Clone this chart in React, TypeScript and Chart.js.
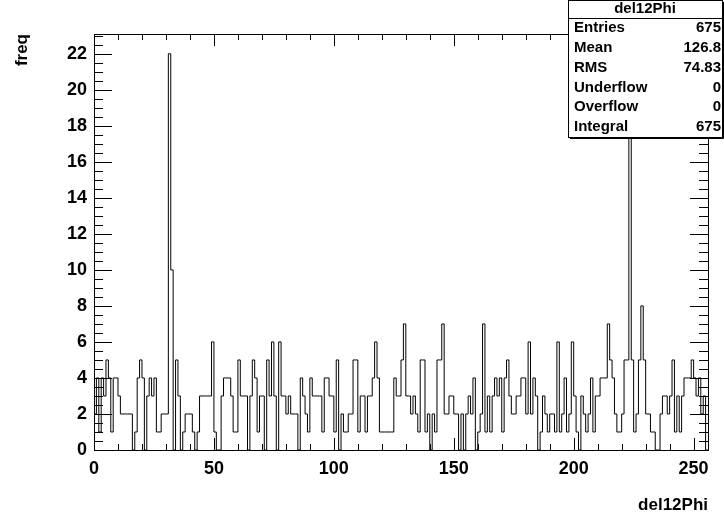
import React, { useEffect, useRef } from "react";
import { Chart, registerables } from "chart.js";

Chart.register(...registerables);

// ---- data ----
const histName = "del12Phi";
const xTitle = "del12Phi";
const yTitle = "freq";
const xMin = 0;
const xMax = 256;
const yMax = 23.1;

// counts per unit-width bin, bins 0..255
const binCounts = [
  4, 2, 4, 1, 4, 3, 5, 4, 1, 4,
  4, 3, 2, 2, 2, 2, 2, 0, 1, 4,
  5, 4, 0, 3, 4, 3, 4, 1, 1, 2,
  2, 2, 22, 10, 0, 5, 3, 0, 1, 2,
  2, 2, 1, 0, 1, 3, 3, 3, 3, 3,
  6, 1, 0, 0, 3, 4, 4, 4, 3, 1,
  1, 5, 3, 3, 3, 0, 3, 5, 4, 1,
  3, 3, 0, 5, 3, 6, 3, 0, 6, 3,
  3, 2, 3, 2, 2, 2, 0, 4, 3, 2,
  1, 4, 3, 3, 3, 3, 1, 4, 4, 3,
  3, 1, 5, 0, 2, 1, 1, 2, 2, 5,
  5, 1, 3, 3, 1, 3, 3, 4, 6, 4,
  1, 1, 1, 1, 1, 1, 4, 3, 3, 5,
  7, 3, 3, 2, 3, 2, 1, 5, 5, 1,
  2, 0, 2, 1, 5, 5, 7, 2, 2, 3,
  3, 2, 2, 0, 2, 0, 2, 3, 2, 4,
  0, 1, 2, 7, 1, 3, 1, 3, 4, 3,
  4, 1, 4, 5, 3, 2, 2, 3, 3, 4,
  4, 2, 6, 2, 4, 3, 0, 1, 3, 2,
  1, 2, 2, 1, 6, 1, 2, 4, 1, 2,
  6, 3, 1, 0, 3, 2, 1, 2, 4, 1,
  3, 3, 4, 4, 4, 7, 5, 4, 2, 1,
  1, 2, 5, 5, 20, 5, 1, 2, 5, 8,
  5, 2, 2, 1, 1, 0, 0, 2, 3, 3,
  2, 3, 5, 1, 3, 1, 3, 4, 4, 4,
  5, 4, 3, 4, 2, 3,
];

const xMajorTicks = [0, 50, 100, 150, 200, 250];
const yMajorTicks = [0, 2, 4, 6, 8, 10, 12, 14, 16, 18, 20, 22];
const xMinorStep = 10;
const yMinorStep = 0.5;

const statsLabels = ["Entries", "Mean", "RMS", "Underflow", "Overflow", "Integral"];
const statsValues = ["675", "126.8", "74.83", "0", "0", "675"];

const FONT = "'Liberation Sans', Arial, Helvetica, sans-serif";

const rootFramePlugin = {
  id: "rootFrame",
  afterDraw(chart: any) {
    const ctx = chart.ctx as CanvasRenderingContext2D;
    const xs = chart.scales.x;
    const ys = chart.scales.y;
    const { left, right, top, bottom } = chart.chartArea;
    ctx.save();
    ctx.strokeStyle = "#000";
    ctx.lineWidth = 1;
    // frame
    ctx.strokeRect(Math.round(left) + 0.5, Math.round(top) + 0.5, Math.round(right - left), Math.round(bottom - top));

    const px = (v: number) => Math.round(xs.getPixelForValue(v)) + 0.5;
    const py = (v: number) => Math.round(ys.getPixelForValue(v)) + 0.5;
    ctx.beginPath();
    // x ticks (bottom and top), inward
    for (let v = xMin; v <= xMax; v += xMinorStep) {
      const major = xMajorTicks.includes(v);
      const len = major ? 12 : 6;
      const x = px(v);
      ctx.moveTo(x, bottom);
      ctx.lineTo(x, bottom - len);
      ctx.moveTo(x, top);
      ctx.lineTo(x, top + len);
    }
    // y ticks (left and right), inward
    for (let v = 0; v <= yMax + 1e-9; v += yMinorStep) {
      const major = yMajorTicks.includes(v);
      const len = major ? 18 : 9;
      const y = py(v);
      ctx.moveTo(left, y);
      ctx.lineTo(left + len, y);
      ctx.moveTo(right, y);
      ctx.lineTo(right - len, y);
    }
    ctx.stroke();

    // axis titles
    ctx.fillStyle = "#000";
    ctx.font = `bold 17px ${FONT}`;
    ctx.textAlign = "right";
    ctx.textBaseline = "middle";
    ctx.fillText(xTitle, right, 505);
    ctx.save();
    ctx.translate(22, top);
    ctx.rotate(-Math.PI / 2);
    ctx.textAlign = "right";
    ctx.fillText(yTitle, 0, 0);
    ctx.restore();

    // stats box
    const bx = 568, by = 0, bw = 154, bh = 137;
    ctx.fillStyle = "#fff";
    ctx.fillRect(bx, by, bw, bh);
    ctx.strokeStyle = "#000";
    ctx.strokeRect(bx + 0.5, by + 0.5, bw, bh);
    ctx.beginPath();
    ctx.moveTo(bx + bw + 1.5, by + 2);
    ctx.lineTo(bx + bw + 1.5, by + bh + 1.5);
    ctx.lineTo(bx + 2, by + bh + 1.5);
    ctx.stroke();
    ctx.beginPath();
    ctx.moveTo(bx, 18.5);
    ctx.lineTo(bx + bw, 18.5);
    ctx.stroke();
    ctx.fillStyle = "#000";
    ctx.font = `bold 15px ${FONT}`;
    ctx.textAlign = "center";
    ctx.fillText(histName, bx + bw / 2, 9);
    const rowH = (bh - 18) / statsLabels.length;
    statsLabels.forEach((lab, i) => {
      const y = 18 + rowH * (i + 0.5);
      ctx.textAlign = "left";
      ctx.fillText(lab, bx + 6, y);
      ctx.textAlign = "right";
      ctx.fillText(statsValues[i], bx + bw - 1, y);
    });
    ctx.restore();
  },
};

export default function App() {
  const ref = useRef<HTMLCanvasElement | null>(null);
  useEffect(() => {
    if (!ref.current) return;
    const points = [
      { x: xMin, y: 0 },
      ...binCounts.map((c, i) => ({ x: xMin + i, y: c })),
      { x: xMax, y: 0 },
    ];
    const chart = new Chart(ref.current, {
      type: "line",
      data: {
        datasets: [
          {
            data: points,
            stepped: "after",
            borderColor: "#000",
            borderWidth: 1,
            pointRadius: 0,
            fill: false,
          },
        ],
      },
      options: {
        animation: false,
        responsive: false,
        events: [],
        layout: { padding: { top: 34, right: 16, left: 0, bottom: 0 } },
        plugins: { legend: { display: false }, tooltip: { enabled: false } },
        scales: {
          x: {
            type: "linear",
            min: xMin,
            max: xMax,
            grid: { display: false, drawTicks: false },
            border: { display: false },
            ticks: {
              stepSize: 50,
              padding: 8,
              color: "#000",
              maxRotation: 0,
              autoSkip: false,
              font: { family: FONT, size: 18, weight: "bold" },
            },
            afterBuildTicks: (s: any) => {
              s.ticks = xMajorTicks.map((v) => ({ value: v }));
            },
            afterFit: (s: any) => {
              s.height = 68;
            },
          },
          y: {
            type: "linear",
            min: 0,
            max: yMax,
            grid: { display: false, drawTicks: false },
            border: { display: false },
            ticks: {
              padding: 7,
              color: "#000",
              autoSkip: false,
              font: { family: FONT, size: 18, weight: "bold" },
            },
            afterBuildTicks: (s: any) => {
              s.ticks = yMajorTicks.map((v) => ({ value: v }));
            },
            afterFit: (s: any) => {
              s.width = 94;
            },
          },
        },
      },
      plugins: [rootFramePlugin],
    });
    return () => chart.destroy();
  }, []);
  return (
    <div style={{ position: "absolute", left: 0, top: 0, width: 724, height: 518, background: "#fff" }}>
      <canvas ref={ref} width={724} height={518} style={{ display: "block" }} />
    </div>
  );
}
